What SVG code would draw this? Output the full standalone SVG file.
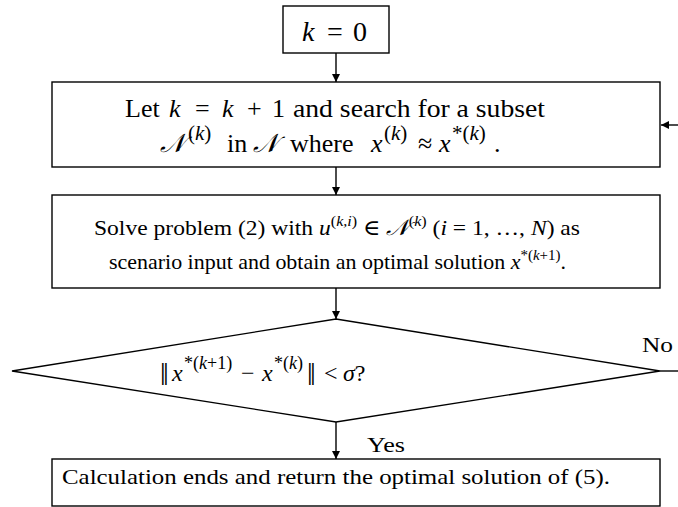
<svg xmlns="http://www.w3.org/2000/svg" width="678" height="507" viewBox="0 0 678 507">
<style>
.box{fill:#fff;stroke:#000;stroke-width:1.4}
.ln{stroke:#000;stroke-width:1.4;fill:none}
.t{font-family:'Liberation Serif','DejaVu Serif',serif;font-size:22px;fill:#000}
.k{font-size:28px}
.l{font-size:26px}
.d{font-size:24px}
.m{font-style:italic}
.s{font-size:15px}
.s2{font-size:18px}
.s3{font-size:21px}
.b{font-size:31px}
</style>
<defs>
<marker id="ah" viewBox="0 0 10 10" refX="10" refY="5" markerWidth="8" markerHeight="8" markerUnits="userSpaceOnUse" orient="auto">
<path d="M0,0 L10,5 L0,10 z" fill="#000"/>
</marker>
</defs>
<g id="connectors">
<line class="ln" x1="336" y1="53" x2="336" y2="82" marker-end="url(#ah)"/>
<line class="ln" x1="336" y1="167" x2="336" y2="195" marker-end="url(#ah)"/>
<line class="ln" x1="336" y1="288" x2="336" y2="319" marker-end="url(#ah)"/>
<line class="ln" x1="336" y1="422" x2="336" y2="459" marker-end="url(#ah)"/>
<line class="ln" x1="660" y1="371" x2="679" y2="371"/>
<line class="ln" x1="679" y1="125" x2="661" y2="125" marker-end="url(#ah)"/>
<text class="t" x="367" y="452" textLength="38" lengthAdjust="spacingAndGlyphs">Yes</text>
<text class="t" x="642" y="352" textLength="31" lengthAdjust="spacingAndGlyphs">No</text>
</g>
<g id="start">
<rect class="box" x="283" y="6" width="106" height="47"/>
<text class="t k" y="41"><tspan class="m" x="302">k</tspan><tspan x="327">=</tspan><tspan x="353">0</tspan></text>
</g>
<g id="subset">
<rect class="box" x="52" y="82" width="608" height="85"/>
<text class="t l" y="117"><tspan x="125">Let</tspan><tspan class="m" x="169">k</tspan><tspan x="195">=</tspan><tspan class="m" x="222">k</tspan><tspan x="247">+</tspan><tspan x="272">1</tspan></text>
<text class="t l" x="293" y="117" textLength="252" lengthAdjust="spacingAndGlyphs">and search for a subset</text>
<text class="t l" y="152"><tspan class="m" x="160">𝒩</tspan><tspan class="s3" x="188" y="140">(<tspan class="m">k</tspan>)</tspan><tspan x="227" y="152">in</tspan><tspan class="m" x="253">𝒩</tspan><tspan x="290">where</tspan><tspan class="m" x="371">x</tspan><tspan class="s3" x="384" y="140">(<tspan class="m">k</tspan>)</tspan><tspan x="418" y="152">≈</tspan><tspan class="m" x="439">x</tspan><tspan class="s3" x="452" y="140">*(<tspan class="m">k</tspan>)</tspan><tspan x="494" y="152">.</tspan></text>
</g>
<g id="solve">
<rect class="box" x="52" y="195" width="608" height="93"/>
<text class="t" x="94" y="235" textLength="486" lengthAdjust="spacingAndGlyphs">Solve problem (2) with <tspan class="m">u</tspan><tspan class="s" dy="-9">(<tspan class="m">k,i</tspan>)</tspan><tspan dy="9"> ∈ </tspan><tspan class="m">𝒩</tspan><tspan class="s" dy="-9">(<tspan class="m">k</tspan>)</tspan><tspan dy="9"> (</tspan><tspan class="m">i</tspan> = 1, …, <tspan class="m">N</tspan>) as</text>
<text class="t" x="109" y="269" textLength="457" lengthAdjust="spacingAndGlyphs">scenario input and obtain an optimal solution <tspan class="m">x</tspan><tspan class="s" dy="-9">*(<tspan class="m">k</tspan>+1)</tspan><tspan dy="9">.</tspan></text>
</g>
<g id="check">
<polygon class="box" points="12,371 336,319 660,371 336,422"/>
<text class="t d" y="381"><tspan class="b" x="160" y="385">‖</tspan><tspan class="m" x="172" y="381">x</tspan><tspan class="s2" x="184" y="369">*(<tspan class="m">k</tspan>+1)</tspan><tspan x="241" y="381">−</tspan><tspan class="m" x="262">x</tspan><tspan class="s2" x="274" y="369">*(<tspan class="m">k</tspan>)</tspan><tspan class="b" x="307" y="385">‖</tspan><tspan x="324" y="381">&lt;</tspan><tspan class="m" x="343">σ</tspan><tspan>?</tspan></text>
</g>
<g id="end">
<rect class="box" x="52" y="459" width="608" height="47"/>
<text class="t" x="62" y="484" textLength="548" lengthAdjust="spacingAndGlyphs">Calculation ends and return the optimal solution of (5).</text>
</g>
</svg>
